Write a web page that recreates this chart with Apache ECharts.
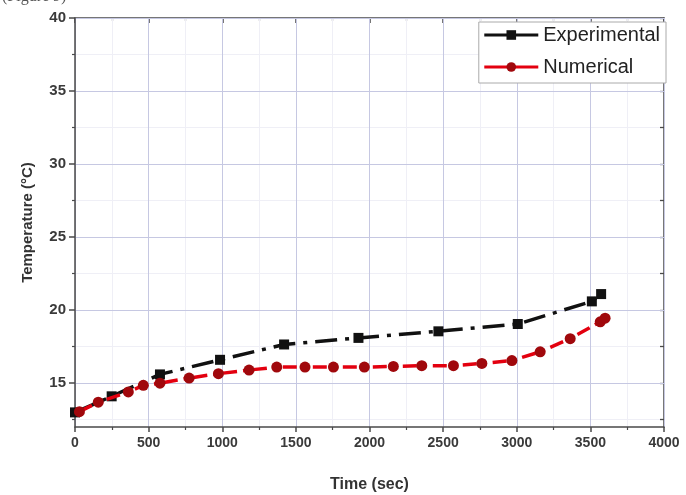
<!DOCTYPE html>
<html>
<head>
<meta charset="utf-8">
<script src="https://cdn.jsdelivr.net/npm/echarts@6/dist/echarts.min.js"></script>
<style>
html,body{margin:0;padding:0;background:#fff;}
#chart{width:686px;height:495px;}
</style>
</head>
<body>
<div id="chart"></div>
<script>
// ---- data ----
var expTime = [0, 249, 577, 985, 1420, 1925, 2468, 3007, 3510, 3573];
var expTemp = [13.0, 14.1, 15.6, 16.6, 17.65, 18.1, 18.55, 19.05, 20.6, 21.1];

var numTime = [30, 158, 362, 464, 577, 775, 974, 1182, 1370, 1562, 1755, 1965, 2162, 2355, 2570, 2763, 2967, 3159, 3363, 3567, 3600];
var numTemp = [13.05, 13.7, 14.4, 14.85, 15.0, 15.35, 15.65, 15.9, 16.1, 16.1, 16.1, 16.1, 16.15, 16.2, 16.2, 16.35, 16.55, 17.15, 18.05, 19.2, 19.45];

var xTicks = [0, 500, 1000, 1500, 2000, 2500, 3000, 3500, 4000];
var yMajor = [15, 20, 25, 30, 35, 40];
var yMinor = [12.5, 17.5, 22.5, 27.5, 32.5, 37.5];
var seriesNames = ['Experimental', 'Numerical'];

function zip(a, b) { return a.map(function (v, i) { return [v, b[i]]; }); }

var FONT = '"Liberation Sans", Arial, sans-serif';
var AX = '#4a4a4a';
var chart = echarts.init(document.getElementById('chart'), null, {renderer: 'canvas'});

var option = {
  backgroundColor: '#fff',
  animation: false,
  graphic: [{
    type: 'text', left: 2, top: -11,
    style: {text: '(Figure 9)', font: '16px "Liberation Serif", serif', fill: '#555'}
  }],
  grid: {left: 75, right: 22, top: 18, bottom: 68, containLabel: false, outerBoundsMode: 'none'},
  legend: {
    data: seriesNames,
    orient: 'vertical',
    right: 20, top: 22,
    backgroundColor: '#fff',
    borderColor: '#aaa', borderWidth: 1,
    padding: [3, 6, 6, 4],
    itemGap: 12,
    itemWidth: 54, itemHeight: 12,
    lineStyle: {type: 'solid', width: 3},
    textStyle: {fontFamily: FONT, fontSize: 20, color: '#222'}
  },
  xAxis: [{
    type: 'value', min: 0, max: 4000, interval: 500, position: 'bottom',
    name: 'Time (sec)', nameLocation: 'middle', nameGap: 50,
    nameTextStyle: {fontFamily: FONT, fontSize: 16, fontWeight: 'bold', color: '#333'},
    axisLine: {show: true, onZero: false, lineStyle: {color: AX, width: 1.5}},
    axisTick: {show: true, inside: false, length: 5, lineStyle: {color: AX, width: 1.5}},
    minorTick: {show: true, splitNumber: 2, length: 3, lineStyle: {color: AX, width: 1.2}},
    axisLabel: {fontFamily: FONT, fontSize: 14, fontWeight: 'bold', color: '#3a3a3a', margin: 9,
      formatter: function (v) { return String(v); }},
    splitLine: {show: true, lineStyle: {color: '#c6c8e2', width: 1}},
    minorSplitLine: {show: true, lineStyle: {color: '#efeff6', width: 1}},
    z: 1
  }, {
    type: 'value', min: 0, max: 4000, interval: 500, position: 'top',
    axisLine: {show: true, onZero: false, lineStyle: {color: AX, width: 1.5}},
    axisTick: {show: true, inside: true, length: 5, lineStyle: {color: AX, width: 1.5}},
    minorTick: {show: true, splitNumber: 2, length: 3, lineStyle: {color: AX, width: 1.2}},
    axisLabel: {show: false},
    splitLine: {show: false}
  }],
  yAxis: [{
    type: 'value', min: 12, max: 40, position: 'left',
    name: 'Temperature (\u00B0C)', nameLocation: 'middle', nameGap: 40,
    nameTextStyle: {fontFamily: FONT, fontSize: 15, fontWeight: 'bold', color: '#333'},
    axisLine: {show: true, onZero: false, lineStyle: {color: AX, width: 1.5}},
    axisTick: {show: true, customValues: yMajor, length: 6, lineStyle: {color: AX, width: 1.5}},
    axisLabel: {customValues: yMajor, fontFamily: FONT, fontSize: 15, fontWeight: 'bold', color: '#3a3a3a', margin: 9},
    splitLine: {show: true, lineStyle: {color: '#c6c8e2', width: 1}},
    z: 2
  }, {
    type: 'value', min: 12, max: 40, position: 'left',
    axisLine: {show: false},
    axisTick: {show: true, customValues: yMinor, length: 3, lineStyle: {color: AX, width: 1.2}},
    axisLabel: {show: false},
    splitLine: {show: true, lineStyle: {color: '#efeff6', width: 1}},
    z: 0
  }, {
    type: 'value', min: 12, max: 40, position: 'right',
    axisLine: {show: true, onZero: false, lineStyle: {color: AX, width: 1.5}},
    axisTick: {show: true, inside: true, customValues: yMajor.concat(yMinor), length: 4, lineStyle: {color: AX, width: 1.3}},
    axisLabel: {show: false},
    splitLine: {show: false}
  }],
  series: [{
    name: seriesNames[0], type: 'line', xAxisIndex: 0, yAxisIndex: 0,
    data: zip(expTime, expTemp),
    symbol: 'rect', symbolSize: 10,
    itemStyle: {color: '#111'},
    lineStyle: {color: '#111', width: 3.5, type: [22, 8, 4, 8]},
    z: 3
  }, {
    name: seriesNames[1], type: 'line', xAxisIndex: 0, yAxisIndex: 0,
    data: zip(numTime, numTemp),
    symbol: 'circle', symbolSize: 11,
    itemStyle: {color: '#a0080c'},
    lineStyle: {color: '#e3000f', width: 3.5, type: [14, 6, 4, 6]},
    z: 4
  }]
};
chart.setOption(option);
</script>
</body>
</html>
